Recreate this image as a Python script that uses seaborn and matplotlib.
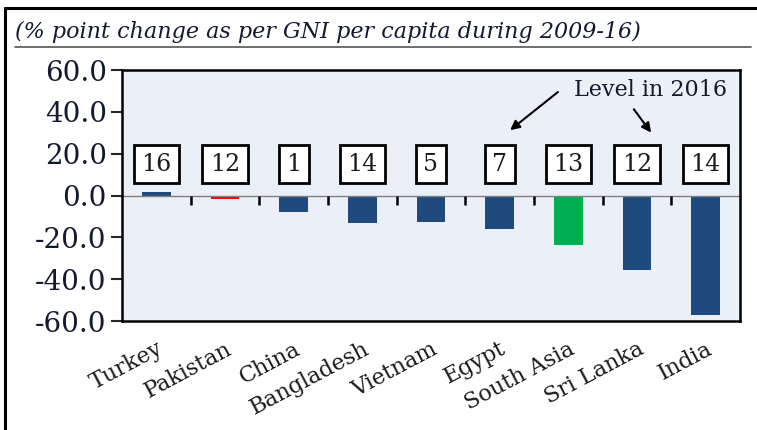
import numpy as np
import pandas as pd
import seaborn as sns
import matplotlib.pyplot as plt
from matplotlib.lines import Line2D

# data
countries = ["Turkey", "Pakistan", "China", "Bangladesh", "Vietnam",
             "Egypt", "South Asia", "Sri Lanka", "India"]
change = [1.5, -1.6, -8.0, -13.2, -12.5, -15.8, -23.9, -35.4, -56.9]
level_2016 = [16, 12, 1, 14, 5, 7, 13, 12, 14]
y_ticks = [-60, -40, -20, 0, 20, 40, 60]

NAVY = "#1F4A7D"
bar_colors = [NAVY, "#FF0000", NAVY, NAVY, NAVY, NAVY, "#00B050", NAVY, NAVY]

W, H = 757, 430


def main():
    data = pd.DataFrame({"Country": countries, "Change": change})

    sns.set_style("white")
    plt.rcParams["font.family"] = ["DejaVu Serif"]

    fig = plt.figure(figsize=(W / 100, H / 100), dpi=100)
    ax = fig.add_axes([122 / W, 1 - 321 / H, 618 / W, 251 / H])
    ax.set_facecolor("#EBF0F8")

    sns.barplot(data=data, x="Country", y="Change", hue="Country",
                palette=bar_colors, legend=False, width=0.42,
                saturation=1, linewidth=0, ax=ax)

    ax.set_ylim(-60, 60)
    ax.set_xlim(-0.5, len(countries) - 0.5)
    ax.set_yticks(y_ticks)
    ax.set_yticklabels([f"{v:.1f}" for v in y_ticks], fontsize=20, color="#141a2e")
    ax.set_xlabel("")
    ax.set_ylabel("")

    # frame
    for sp in ax.spines.values():
        sp.set_visible(True)
        sp.set_color("black")
        sp.set_linewidth(1.8)

    ax.tick_params(axis="y", direction="out", length=8, width=1.5, pad=3, left=True)
    ax.tick_params(axis="x", length=0, pad=12)
    for lab in ax.get_xticklabels():
        lab.set_rotation(28)
        lab.set_ha("right")
        lab.set_rotation_mode("anchor")
        lab.set_fontsize(16)
        lab.set_color("#1a1a1a")

    # zero line and separator ticks hanging under it
    ax.axhline(0, color="#7f7f7f", lw=1.0, zorder=1)
    seps = np.arange(len(countries) - 1) + 0.5
    ax.vlines(seps, -4.6, 0, color="black", lw=1.8, zorder=2)

    # boxed level labels
    for i, lv in enumerate(level_2016):
        ax.text(i, 15, str(lv), ha="center", va="center", fontsize=17,
                color="#1a1a1a", zorder=5,
                bbox=dict(boxstyle="square,pad=0.32", fc="white", ec="black", lw=2.0))

    # annotation
    ax.text(7.2, 50.5, "Level in 2016", ha="center", va="center",
            fontsize=16, color="#141a2e")
    arrow = dict(arrowstyle="-|>", color="black", lw=1.5, mutation_scale=14)
    ax.annotate("", xy=(5.12, 30.4), xytext=(5.88, 50.3), arrowprops=arrow)
    ax.annotate("", xy=(7.23, 29.0), xytext=(6.93, 42.3), arrowprops=arrow)

    # title and rules
    fig.text(15 / W, 1 - 32 / H, "(% point change as per GNI per capita during 2009-16)",
             fontsize=16, style="italic", ha="left", va="center", color="#141a2e")
    fig.add_artist(Line2D([15 / W, 751 / W], [1 - 47 / H, 1 - 47 / H],
                          color="#555555", lw=1.2))
    fig.add_artist(Line2D([5 / W, 1.0], [1 - 8 / H, 1 - 8 / H], color="black", lw=2.2))
    fig.add_artist(Line2D([5 / W, 5 / W], [0, 1 - 8 / H], color="black", lw=2.2))

    fig.savefig("out.png", dpi=100)


if __name__ == "__main__":
    main()
